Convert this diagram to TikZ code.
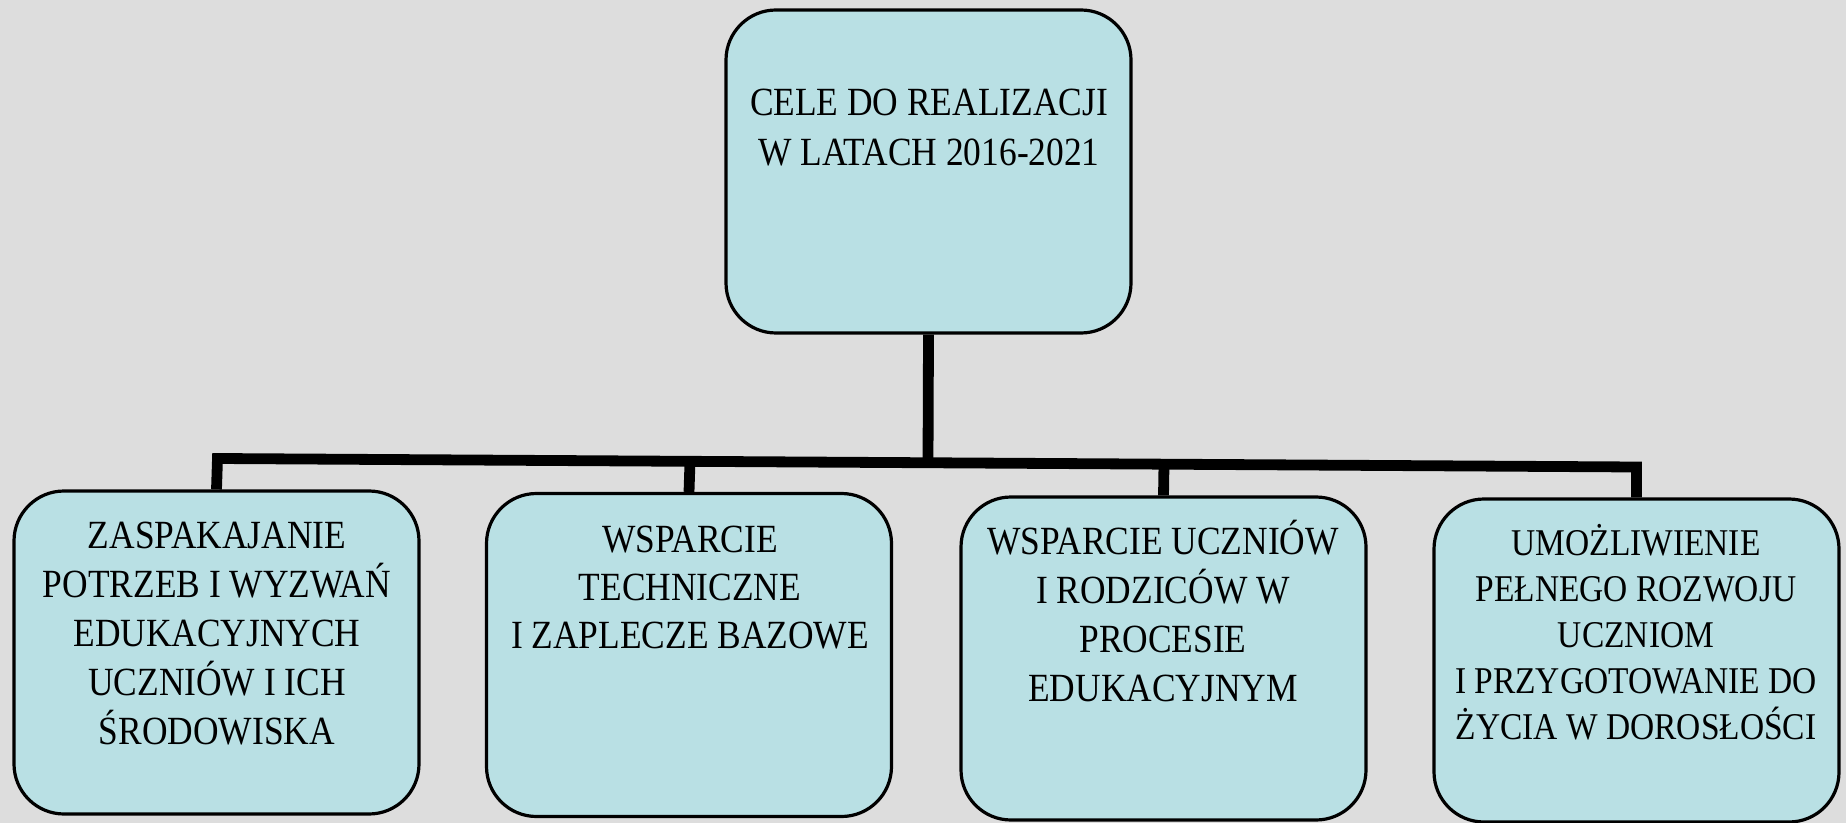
\documentclass[tikz,border=0pt]{standalone}
\usepackage{fontspec}
\setmainfont{Liberation Serif}[FakeStretch=0.885]
\definecolor{bgc}{HTML}{DDDDDD}
\definecolor{boxc}{HTML}{B9E0E4}
\pgfdeclarelayer{bglayer}
\pgfdeclarelayer{connlayer}
\pgfsetlayers{bglayer,connlayer,main}
\tikzset{
  box/.style={draw=black, line width=1.6pt, fill=boxc, rounded corners=25pt,
    minimum width=202.5pt, minimum height=161.5pt, inner sep=0pt},
  txt/.style={anchor=north, inner sep=0pt, align=center, text=black},
  conn/.style={draw=black, line width=5.4pt, line join=miter, line cap=butt},
}
\begin{document}
\begin{tikzpicture}[x=0.5pt,y=-0.5pt]
\begin{pgfonlayer}{bglayer}
\fill[bgc] (0,0) rectangle (1846,823);
\end{pgfonlayer}
\useasboundingbox (0,0) rectangle (1846,823);
% junction coordinates on the (slightly tilted) bar
\coordinate (hL) at (217.5,458.5);
\coordinate (hR) at (1636.5,467);
\coordinate (jT) at (928,462.8);
\coordinate (j2) at (690,461.5);
\coordinate (j3) at (1164,464.3);
% boxes
\node[box] (top) at (928.5,171.5) {};
\node[box] (b1) at (216.5,652.5) {};
\node[box] (b2) at (689,655) {};
\node[box] (b3) at (1163.5,658.5) {};
\node[box] (b4) at (1636.5,660.5) {};
% connectors
\begin{pgfonlayer}{connlayer}
\draw[conn] (b1.north) -- (hL) -- (hR) -- (b4.north);
\draw[conn] (top.south) -- (jT);
\draw[conn] (j2) -- (b2.north);
\draw[conn] (j3) -- (b3.north);
\end{pgfonlayer}
% texts
\node[txt, font=\fontsize{20}{25}\selectfont] (ttop) at (929,75)
  {\rule{0pt}{20pt}CELE DO REALIZACJI\\W LATACH 2016-2021};
\node[txt, font=\fontsize{20}{24.5}\selectfont] (t1) at (217,508)
  {\rule{0pt}{20pt}ZASPAKAJANIE\\POTRZEB I WYZWAŃ\\EDUKACYJNYCH\\UCZNIÓW I ICH\\ŚRODOWISKA};
\node[txt, font=\fontsize{20}{24}\selectfont] (t2) at (690,512)
  {\rule{0pt}{20pt}WSPARCIE\\TECHNICZNE\\I ZAPLECZE BAZOWE};
\node[txt, font=\fontsize{20}{24.5}\selectfont] (t3) at (1163,514)
  {\rule{0pt}{20pt}WSPARCIE UCZNIÓW\\I RODZICÓW W\\PROCESIE\\EDUKACYJNYM};
\node[txt, font=\fontsize{18.9}{23}\selectfont] (t4) at (1636,515)
  {\rule{0pt}{20pt}UMOŻLIWIENIE\\PEŁNEGO ROZWOJU\\UCZNIOM\\I PRZYGOTOWANIE DO\\ŻYCIA W DOROSŁOŚCI};
\end{tikzpicture}
\end{document}
